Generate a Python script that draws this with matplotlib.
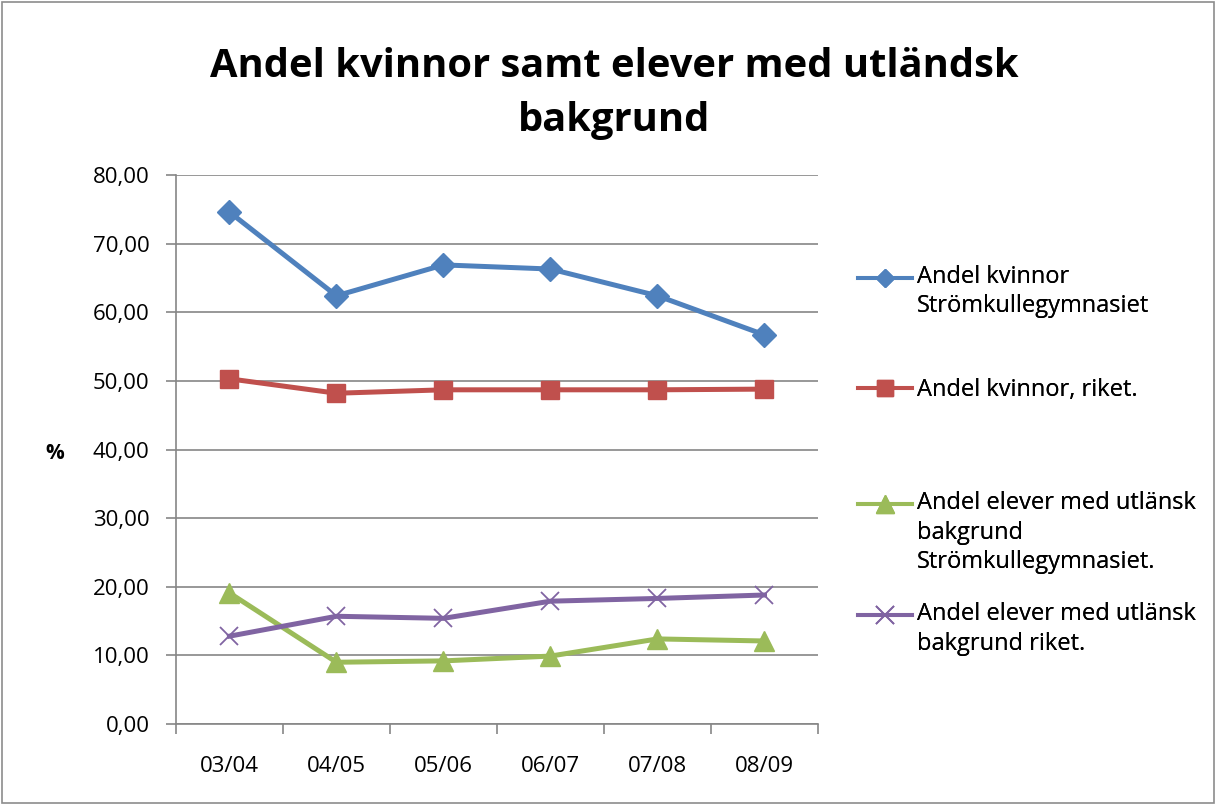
import matplotlib
matplotlib.use("Agg")
from matplotlib import pyplot as plt
from matplotlib.patches import Rectangle

plt.rcParams['font.family'] = ['Open Sans', 'DejaVu Sans']

years = ["03/04", "04/05", "05/06", "06/07", "07/08", "08/09"]
kvinnor_skola = [74.6, 62.4, 66.9, 66.3, 62.4, 56.7]
kvinnor_riket = [50.3, 48.2, 48.7, 48.7, 48.7, 48.8]
utl_skola = [19.1, 9.0, 9.2, 9.9, 12.4, 12.1]
utl_riket = [12.8, 15.7, 15.4, 17.9, 18.3, 18.8]

labels = ["Andel kvinnor\nStrömkullegymnasiet",
          "Andel kvinnor, riket.",
          "Andel elever med utlänsk\nbakgrund\nStrömkullegymnasiet.",
          "Andel elever med utlänsk\nbakgrund riket."]

fig = plt.figure(figsize=(12.16, 8.05), dpi=100)
fig.patches.append(Rectangle((0.002, 0.002), 0.996, 0.996, transform=fig.transFigure,
                             fill=False, edgecolor='#8c8c8c', linewidth=1.2))

ax = fig.add_axes([0.1447, 0.1006, 0.528, 0.682])
x = range(len(years))

l1, = ax.plot(x, kvinnor_skola, color='#4F81BD', lw=3.6, marker='D', ms=12, zorder=3)
l2, = ax.plot(x, kvinnor_riket, color='#C0504D', lw=3.6, marker='s', ms=13, zorder=3)
l3, = ax.plot(x, utl_skola, color='#9BBB59', lw=3.6, marker='^', ms=14, zorder=3)
l4, = ax.plot(x, utl_riket, color='#8064A2', lw=3.6, marker='x', ms=13.5, mew=1.3, zorder=3)

ax.set_xlim(-0.5, len(years) - 0.5)
ax.set_ylim(0, 80)
ax.set_yticks(range(0, 81, 10))
ax.set_yticklabels([f"{v},00" for v in range(0, 81, 10)])
ax.set_xticks(list(x))
ax.set_xticklabels(years)
ax.set_xticks([i - 0.5 for i in range(len(years) + 1)], minor=True)
ax.tick_params(axis='x', which='major', length=0, pad=23, labelsize=16)
ax.tick_params(axis='x', which='minor', length=7, width=1.2, color='#868686')
ax.tick_params(axis='y', length=7, width=1.2, color='#868686', pad=12, labelsize=16)
ax.grid(axis='y', color='#868686', lw=1.2)
ax.set_axisbelow(True)
for s in ['top', 'right']:
    ax.spines[s].set_visible(False)
for s in ['left', 'bottom']:
    ax.spines[s].set_color('#868686')
    ax.spines[s].set_linewidth(1.2)

fig.text(0.045, 0.437, "%", fontsize=15, fontweight='bold', ha='center', va='center')

fig.text(0.505, 0.8373, "Andel kvinnor samt elever med utländsk\nbakgrund", fontsize=28.7,
         fontweight='bold', ha='center', va='baseline', linespacing=1.5)

# legend: one box per series, handle aligned with first text line
pads = ["\n", "", "\n\n", "\n"]
ys = [0.656, 0.515, 0.375, 0.237]
msizes = [9.5, 12, 12.5, 12.5]
for line, lab, pad, y, m in zip([l1, l2, l3, l4], labels, pads, ys, msizes):
    leg = fig.legend([line], [pad + lab], loc='center left', bbox_to_anchor=(0.7056, y),
                     frameon=False, fontsize=17, handlelength=2.3, handletextpad=0.2,
                     borderpad=0, borderaxespad=0)
    for t in leg.get_texts():
        t.set_linespacing(1.3)
    for h in leg.legend_handles:
        h.set_markersize(m)
        h.set_linewidth(2.9)
    fig.add_artist(leg)

plt.savefig("out.png", dpi=100)
